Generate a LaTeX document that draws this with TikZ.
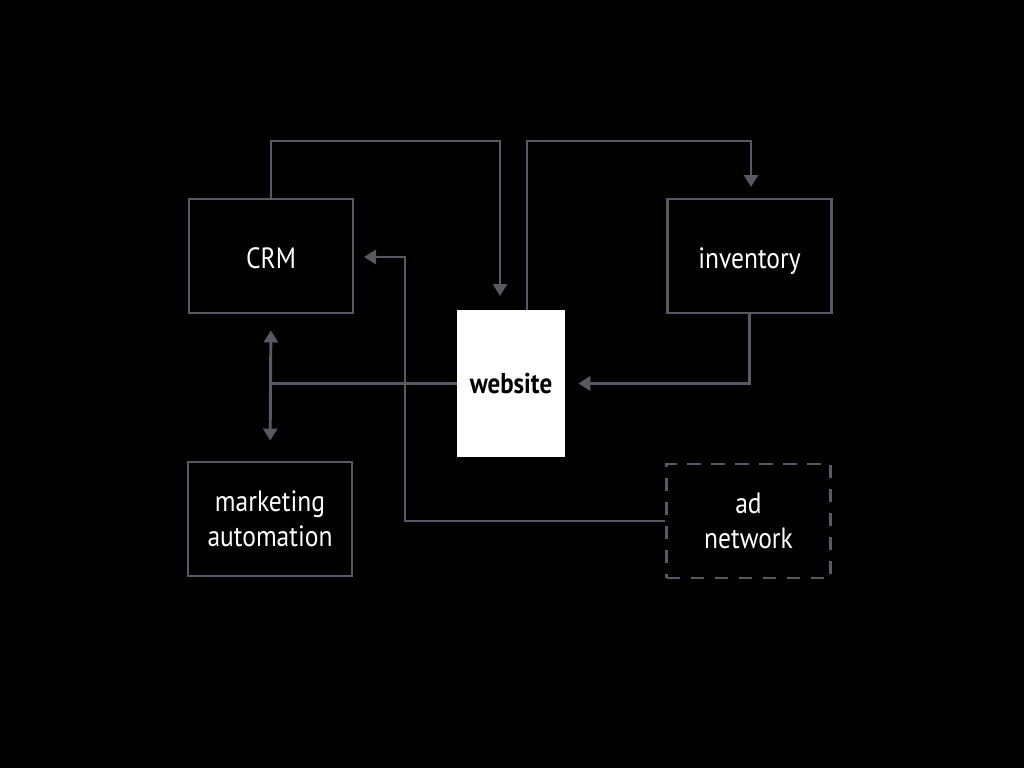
\documentclass[tikz,border=0pt]{standalone}
\usepackage{fontspec}
\setmainfont{PT Sans}[FakeStretch=0.87]
\usetikzlibrary{arrows.meta}
\definecolor{linegray}{HTML}{575B61}
\tikzset{
  tip/.tip={Triangle[length=9pt,width=10.5pt]},
  box/.style={draw=linegray, line width=2.2pt, text=white, align=center, font=\fontsize{22}{26}\selectfont, minimum width=164*0.75pt, minimum height=114*0.75pt, inner sep=0pt},
  dashbox/.style={box, dash pattern=on 10pt off 8pt},
  webbox/.style={fill=white, text=black, font=\bfseries\fontsize{21.5}{25}\selectfont, minimum width=108*0.75pt, minimum height=147*0.75pt, inner sep=0pt},
  conn/.style={draw=linegray, line width=2.2pt, arrows={-tip}},
  plain/.style={draw=linegray, line width=2.2pt}
}
\begin{document}
\begin{tikzpicture}[x=0.75pt,y=-0.75pt]
\fill[black] (0,0) rectangle (1024,768);
\useasboundingbox (0,0) rectangle (1024,768);
\node[box] (crm) at (271,256) {\raisebox{-1.5pt}[\height][\depth]{CRM}};
\node[box] (inv) at (749.5,256) {\raisebox{-4pt}[\height][\depth]{inventory}};
\node[webbox] (web) at (511,383.5) {website};
\node[box] (ma) at (270,519) {marketing\\automation};
\node[dashbox] (ad) at (748.5,521) {ad\\network};
\coordinate (j) at (271,383.5);
% CRM -> website
\draw[conn, shorten >=14*0.75pt] (crm.north) |- (500,141) -- (500,310);
% website -> inventory
\draw[conn, shorten >=12*0.75pt] (527,310) |- (751,141) -- (751,199);
% inventory -> website
\draw[conn, shorten >=13*0.75pt] (inv.south) |- (web.east);
% website -> CRM / marketing automation
\draw[plain] (web.west) -- (j);
\draw[conn, arrows={tip-tip}, shorten <=16*0.75pt, shorten >=20*0.75pt] (crm.south) -- (ma.north);
% ad network -> CRM
\draw[conn, shorten >=11*0.75pt] (ad.west) -| (405,257) -- (353,257);
\end{tikzpicture}
\end{document}
